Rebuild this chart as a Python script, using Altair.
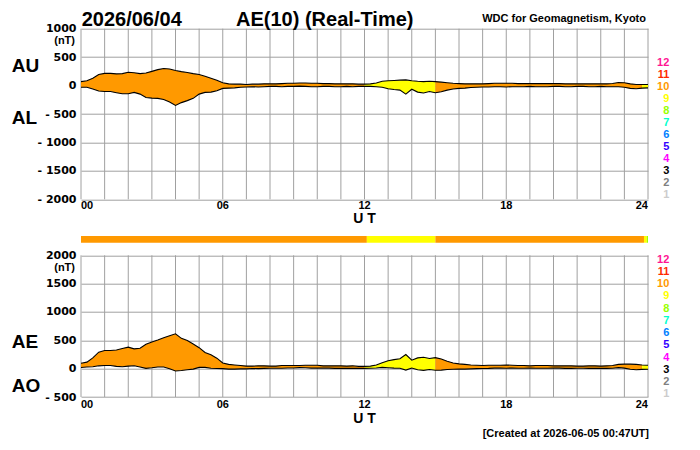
import altair as alt
import pandas as pd

# ---------------- data ----------------
hours = [i / 4 for i in range(97)]  # 15-minute samples, 00-24 UT

au = [70, 85, 130, 195, 215, 215, 205, 210,
      235, 225, 210, 220, 250, 280, 300, 290,
      265, 245, 230, 210, 195, 165, 130, 95,
      50, 30, 25, 25, 20, 25, 25, 30,
      30, 30, 35, 40, 40, 45, 45, 40,
      40, 35, 35, 30, 30, 30, 30, 25,
      25, 30, 45, 75, 85, 90, 95, 100,
      85, 75, 70, 75, 70, 60, 50, 40,
      35, 30, 30, 30, 30, 35, 40, 40,
      40, 40, 35, 35, 35, 35, 35, 35,
      35, 35, 30, 30, 30, 30, 30, 30,
      30, 30, 35, 55, 50, 30, 20, 20,
      20]

al = [-30, -30, -60, -95, -105, -105, -125, -145,
      -145, -120, -150, -210, -220, -225, -245, -290,
      -350, -300, -265, -225, -150, -120, -115, -90,
      -50, -45, -40, -30, -25, -20, -25, -20,
      -15, -15, -20, -15, -15, -10, -15, -20,
      -20, -15, -15, -20, -20, -15, -20, -15,
      -15, -15, -20, -30, -55, -70, -80, -150,
      -65, -115, -130, -105, -125, -110, -80, -60,
      -50, -45, -35, -30, -25, -25, -20, -20,
      -25, -20, -20, -20, -15, -20, -20, -20,
      -15, -15, -20, -20, -15, -15, -20, -20,
      -15, -20, -20, -20, -30, -50, -55, -45,
      -40]

ae = [95, 115, 190, 290, 320, 320, 330, 355,
      380, 350, 360, 430, 470, 505, 545, 580,
      615, 535, 495, 435, 370, 285, 245, 185,
      100, 75, 65, 55, 45, 45, 50, 50,
      45, 45, 55, 55, 55, 55, 60, 60,
      60, 50, 50, 50, 50, 45, 50, 40,
      40, 45, 65, 105, 140, 160, 175, 250,
      150, 190, 200, 180, 195, 170, 130, 100,
      85, 75, 65, 60, 55, 60, 60, 60,
      65, 60, 55, 55, 50, 55, 55, 55,
      50, 50, 50, 50, 45, 45, 50, 50,
      45, 50, 55, 75, 80, 80, 75, 65,
      60]

ao = [20, 28, 35, 50, 55, 55, 40, 33,
      45, 52, 30, 5, 15, 28, 28, 0,
      -42, -32, -18, -8, 22, 22, 8, 3,
      0, -8, -8, -3, -3, 3, 0, 5,
      8, 8, 8, 12, 12, 18, 15, 10,
      10, 10, 10, 5, 5, 8, 5, 5,
      5, 8, 12, 22, 15, 10, 8, -25,
      10, -20, -30, -15, -28, -25, -15, -10,
      -8, -8, -3, 0, 3, 5, 10, 10,
      8, 10, 8, 8, 10, 8, 8, 8,
      10, 10, 5, 5, 8, 8, 5, 5,
      8, 5, 8, 18, 10, -10, -18, -12,
      -10]

# number of contributing stations for each 15-min interval
stations = [10] * 48 + [9] * 12 + [10] * 35 + [9] * 2

# station-count strip
bar_start = [0, 12.1, 15.0, 23.83, 23.95]
bar_end = [12.1, 15.0, 23.83, 23.95, 24]
bar_n = [10, 9, 10, 9, 8]

legend_n = [12, 11, 10, 9, 8, 7, 6, 5, 4, 3, 2, 1]
colors_1_to_12 = ["#cccccc", "#808080", "#000000", "#ff00ff", "#3300ff", "#0080ff",
                  "#00ffcc", "#99ff00", "#ffff00", "#ff9900", "#ff2a00", "#ff1493"]

tick_hours = [0, 6, 12, 18, 24]
tick_labels = ["00", "06", "12", "18", "24"]
grid_hours = list(range(25))
top_values = [-2000, -1500, -1000, -500, 0, 500, 1000]
bot_values = [-500, 0, 500, 1000, 1500, 2000]

# ---------------- tables ----------------
samples = pd.DataFrame({"t": hours, "au": au, "al": al, "ae": ae, "ao": ao, "n": stations})
rows = []
seg = 0
for i in range(len(hours)):
    if i > 0 and stations[i] != stations[i - 1]:
        r = {k: samples[k].iloc[i] for k in ["t", "au", "al", "ae", "ao"]}
        r["n"] = int(stations[i - 1]); r["seg"] = seg
        rows.append(r)
        seg += 1
    r = {k: samples[k].iloc[i] for k in ["t", "au", "al", "ae", "ao"]}
    r["n"] = int(stations[i]); r["seg"] = seg
    rows.append(r)
fill = pd.DataFrame(rows)
bars = pd.DataFrame({"start": bar_start, "end": bar_end, "n": bar_n})
legend_df = pd.DataFrame({"n": legend_n, "lab": [str(v) for v in legend_n]})
ticks_df = pd.DataFrame({"h": tick_hours, "lab": tick_labels})
grid_df = pd.DataFrame({"h": grid_hours})

# ---------------- layout / style ----------------
W, H = 567, 368
FONT = "Liberation Sans"
GRID = "#a0a0a0"
TOP_RANGE = [170.6, 0]
BOT_RANGE = [368.3, 226.6]

x_scale = alt.Scale(domain=[0, 24], nice=False, zero=False)
color_scale = alt.Scale(domain=list(range(1, 13)), range=colors_1_to_12)
y_top = alt.Scale(domain=[-2000, 1000], range=TOP_RANGE, nice=False, zero=False)
y_bot = alt.Scale(domain=[-500, 2000], range=BOT_RANGE, nice=False, zero=False)

lab_expr = "datum.value < 0 ? '- ' + format(-datum.value, 'd') : format(datum.value, 'd')"


def y_axis(vals):
    return alt.Axis(values=vals, orient="left", title=None, grid=True, gridColor=GRID,
                    gridWidth=1, domain=False, ticks=False, tickSize=0, labelPadding=5,
                    labelFont="DejaVu Sans", labelFontWeight="bold", labelFontSize=11,
                    labelColor="black", labelExpr=lab_expr, labelOverlap=False)


ax_top = y_axis(top_values)
ax_bot = y_axis(bot_values)
X = lambda f: alt.X(f, scale=x_scale, axis=None)


def panel(ylo_field, yhi_field, scale, axis, dom):
    grid = alt.Chart(grid_df).mark_rule(color=GRID, strokeWidth=1).encode(
        x=X("h:Q"),
        y=alt.YDatum(dom[1], type="quantitative", scale=scale, axis=axis),
        y2=alt.Y2Datum(dom[0]),
    )
    area = alt.Chart(fill).mark_area(opacity=1, interpolate="linear").encode(
        x=X("t:Q"),
        y=alt.Y(f"{yhi_field}:Q", scale=scale, axis=axis),
        y2=alt.Y2(f"{ylo_field}:Q"),
        color=alt.Color("n:O", scale=color_scale, legend=None),
        detail="seg:N",
    )
    l1 = alt.Chart(samples).mark_line(color="black", strokeWidth=1.1).encode(
        x=X("t:Q"), y=alt.Y(f"{yhi_field}:Q", scale=scale, axis=axis))
    l2 = alt.Chart(samples).mark_line(color="black", strokeWidth=1.1).encode(
        x=X("t:Q"), y=alt.Y(f"{ylo_field}:Q", scale=scale, axis=axis))
    return alt.layer(grid, area, l1, l2)


top = panel("al", "au", y_top, ax_top, [-2000, 1000])
bot = panel("ao", "ae", y_bot, ax_bot, [-500, 2000])

strip = alt.Chart(bars).mark_rect().encode(
    x=X("start:Q"), x2="end:Q", y=alt.value(207.3), y2=alt.value(214),
    color=alt.Color("n:O", scale=color_scale, legend=None))


def label(txt, x, y, size, align="left", baseline="alphabetic", weight="bold"):
    return alt.Chart(pd.DataFrame({"s": [txt]})).mark_text(
        text=txt, font=FONT, fontSize=size, fontWeight=weight, align=align,
        baseline=baseline, color="black").encode(x=alt.value(x), y=alt.value(y))


def tick_texts(y):
    out = []
    for flt, al_ in [("datum.h == 0", "left"), ("datum.h > 0 && datum.h < 24", "center"),
                     ("datum.h == 24", "right")]:
        out.append(alt.Chart(ticks_df).transform_filter(flt).mark_text(
            font=FONT, fontSize=11, fontWeight="bold", align=al_, baseline="middle",
            color="black").encode(x=X("h:Q"), y=alt.value(y), text="lab:N"))
    return out


def ut_text(y):
    return alt.Chart(pd.DataFrame({"s": ["U T"]})).mark_text(
        text="U T", font=FONT, fontSize=14, fontWeight="bold", align="center",
        baseline="middle", color="black").encode(
        x=alt.XDatum(12, type="quantitative", scale=x_scale, axis=None), y=alt.value(y))


def legend(rng):
    return alt.Chart(legend_df).mark_text(
        font=FONT, fontSize=11, fontWeight="bold", align="right", baseline="middle").encode(
        x=alt.value(588.3),
        y=alt.Y("n:Q", scale=alt.Scale(domain=[12, 1], range=rng, nice=False, zero=False), axis=None),
        color=alt.Color("n:O", scale=color_scale, legend=None),
        text="lab:N")


layers = [top, bot, strip]
layers += tick_texts(177) + tick_texts(376.3)
layers += [ut_text(190.5), ut_text(390)]
layers += [legend([34.5, 166.6]), legend([231.1, 365.5])]
layers += [
    label("2026/06/04", 0.7, -2.4, 20),
    label("AE(10) (Real-Time)", 155, -2.4, 20),
    label("WDC for Geomagnetism, Kyoto", 565, -6.7, 11, align="right"),
    label("AU", -69.3, 43.3, 19),
    label("AL", -69.3, 95, 19),
    label("AE", -69.3, 319.3, 19),
    label("AO", -69.3, 363.3, 19),
    label("(nT)", -6, 12.5, 11, align="right", baseline="middle"),
    label("(nT)", -6, 239.6, 11, align="right", baseline="middle"),
    label("[Created at 2026-06-05 00:47UT]", 568, 405.5, 11, align="right", baseline="middle"),
]

chart = alt.layer(*layers).resolve_scale(y="independent").properties(
    width=W, height=H,
    autosize=alt.AutoSizeParams(type="none"),
    padding={"left": 73, "top": 20.7, "right": 44, "bottom": 45.3},
    background="white",
).configure_view(stroke=None)

chart.save("out.html", embed_options={"renderer": "svg", "actions": False})
